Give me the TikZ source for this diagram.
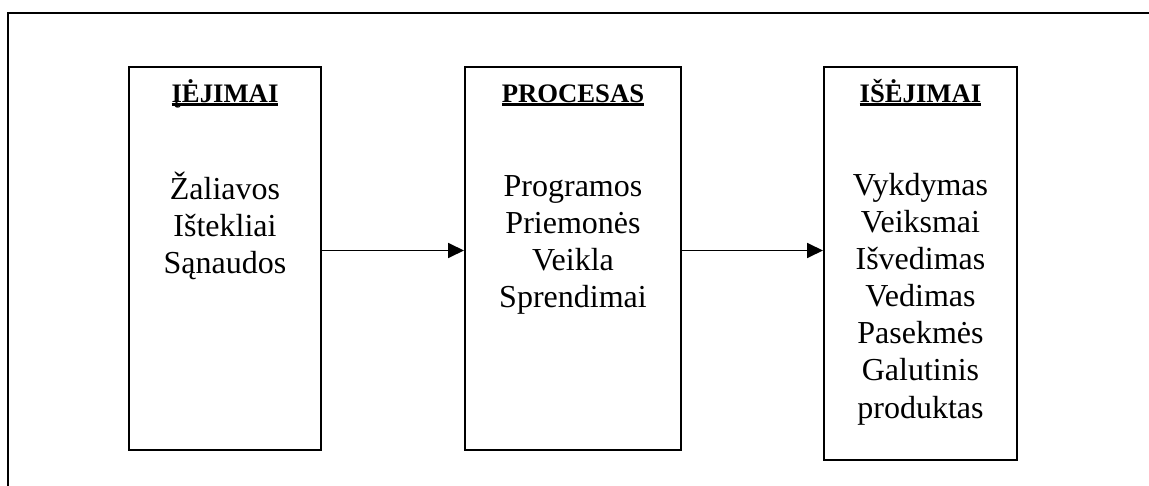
\documentclass[tikz,border=0pt]{standalone}
\usepackage{fontspec}
\setmainfont{Liberation Serif}
\usetikzlibrary{arrows.meta,positioning}

\newcommand{\headline}[1]{\setbox0\hbox{#1}\rlap{\copy0}\rule[-3.2pt]{\wd0}{2.7pt}}

\tikzset{
  box/.style={draw, line width=2pt, inner sep=0pt, anchor=north west},
  head/.style={anchor=base, inner sep=0pt, font=\fontsize{26.7}{30}\selectfont\bfseries},
  entry/.style={anchor=base, inner sep=0pt, font=\fontsize{32}{37}\selectfont},
  flow/.style={line width=1.8pt, -{Triangle[length=16pt,width=15pt]}},
}

\begin{document}
\begin{tikzpicture}[x=1pt,y=-1pt]

            \useasboundingbox (0,0) rectangle (1149,486);
            \draw[line width=2pt] (8,486) -- (8,13) -- (1149,13);

            \node[box, minimum width=192pt, minimum height=383pt] (in) at (128,66) {};
            \node[box, minimum width=216pt, minimum height=383pt] (proc) at (464,66) {};
            \node[box, minimum width=193pt, minimum height=393pt] (out) at (823,66) {};

            \node[head] (inhead) at ([yshift=-37pt]in.north) {\headline{ĮĖJIMAI}};
            \node[head] (prochead) at ([yshift=-37pt]proc.north) {\headline{PROCESAS}};
            \node[head] (outhead) at ([yshift=-37pt]out.north) {\headline{IŠĖJIMAI}};

            \foreach \t [count=\i] in {Žaliavos,Ištekliai,Sąnaudos}
                \node[entry] (in-\i) at ([yshift={-134pt-37pt*(\i-1)}]in.north) {\t};
            \foreach \t [count=\i] in {Programos,Priemonės,Veikla,Sprendimai}
                \node[entry] (proc-\i) at ([yshift={-131pt-37pt*(\i-1)}]proc.north) {\t};
            \foreach \t [count=\i] in {Vykdymas,Veiksmai,Išvedimas,Vedimas,Pasekmės,Galutinis,produktas}
                \node[entry] (out-\i) at ([yshift={-130pt-37pt*(\i-1)}]out.north) {\t};

            \coordinate (a1) at ([yshift=8pt]in.east);
            \draw[flow] (a1) -- (proc.west |- a1);
            \coordinate (a2) at ([yshift=8pt]proc.east);
            \draw[flow] (a2) -- (out.west |- a2);
        \end{tikzpicture}
\end{document}
